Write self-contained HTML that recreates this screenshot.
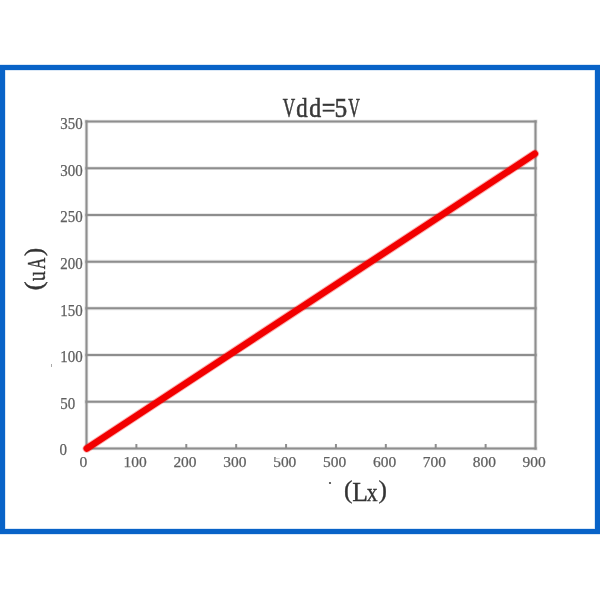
<!DOCTYPE html><html><head><meta charset="utf-8"><style>html,body{margin:0;padding:0;background:#fff;width:600px;height:600px;overflow:hidden}#w{width:600px;height:600px;will-change:transform}svg{display:block}text{font-family:"Liberation Serif",serif}</style></head><body>
<div id="w">
<svg width="600" height="600" viewBox="0 0 600 600">
<rect x="0" y="0" width="600" height="600" fill="#fff"/>
<rect x="2.5" y="67.5" width="595" height="464" fill="none" stroke="#0863c8" stroke-opacity="0.3" stroke-width="6"/>
<rect x="2.5" y="67.5" width="595" height="464" fill="none" stroke="#0863c8" stroke-width="5"/>
<g stroke="#8e8e8e" stroke-opacity="0.25" stroke-width="3.6" fill="none">
<line x1="84.70" y1="121.50" x2="537.30" y2="121.50"/>
<line x1="84.70" y1="168.21" x2="537.30" y2="168.21"/>
<line x1="84.70" y1="214.93" x2="537.30" y2="214.93"/>
<line x1="84.70" y1="261.64" x2="537.30" y2="261.64"/>
<line x1="84.70" y1="308.36" x2="537.30" y2="308.36"/>
<line x1="84.70" y1="355.07" x2="537.30" y2="355.07"/>
<line x1="84.70" y1="401.79" x2="537.30" y2="401.79"/>
<line x1="84.70" y1="448.50" x2="537.30" y2="448.50"/>
<line x1="86.50" y1="119.70" x2="86.50" y2="450.30"/>
<line x1="535.50" y1="119.70" x2="535.50" y2="450.30"/>
</g>
<line x1="85.50" y1="121.50" x2="536.50" y2="121.50" stroke="#8e8e8e" stroke-width="2"/>
<line x1="85.50" y1="168.21" x2="536.50" y2="168.21" stroke="#8e8e8e" stroke-width="2"/>
<line x1="85.50" y1="214.93" x2="536.50" y2="214.93" stroke="#8e8e8e" stroke-width="2"/>
<line x1="85.50" y1="261.64" x2="536.50" y2="261.64" stroke="#8e8e8e" stroke-width="2"/>
<line x1="85.50" y1="308.36" x2="536.50" y2="308.36" stroke="#8e8e8e" stroke-width="2"/>
<line x1="85.50" y1="355.07" x2="536.50" y2="355.07" stroke="#8e8e8e" stroke-width="2"/>
<line x1="85.50" y1="401.79" x2="536.50" y2="401.79" stroke="#8e8e8e" stroke-width="2"/>
<line x1="85.50" y1="448.50" x2="536.50" y2="448.50" stroke="#8e8e8e" stroke-width="2"/>
<line x1="86.50" y1="120.50" x2="86.50" y2="449.50" stroke="#8e8e8e" stroke-width="2"/>
<line x1="535.50" y1="120.50" x2="535.50" y2="449.50" stroke="#8e8e8e" stroke-width="2"/>
<line x1="136.39" y1="444.00" x2="136.39" y2="448.50" stroke="#8e8e8e" stroke-width="2"/>
<line x1="186.28" y1="444.00" x2="186.28" y2="448.50" stroke="#8e8e8e" stroke-width="2"/>
<line x1="236.17" y1="444.00" x2="236.17" y2="448.50" stroke="#8e8e8e" stroke-width="2"/>
<line x1="286.06" y1="444.00" x2="286.06" y2="448.50" stroke="#8e8e8e" stroke-width="2"/>
<line x1="335.94" y1="444.00" x2="335.94" y2="448.50" stroke="#8e8e8e" stroke-width="2"/>
<line x1="385.83" y1="444.00" x2="385.83" y2="448.50" stroke="#8e8e8e" stroke-width="2"/>
<line x1="435.72" y1="444.00" x2="435.72" y2="448.50" stroke="#8e8e8e" stroke-width="2"/>
<line x1="485.61" y1="444.00" x2="485.61" y2="448.50" stroke="#8e8e8e" stroke-width="2"/>
<line x1="86.8" y1="448.5" x2="534.8" y2="153.8" stroke="#f20000" stroke-opacity="0.3" stroke-width="8.6" stroke-linecap="round"/>
<line x1="86.8" y1="448.5" x2="534.8" y2="153.8" stroke="#f20000" stroke-width="6.6" stroke-linecap="round"/>
<text x="60.3" y="128.90" font-size="16" fill="#606060" stroke="#606060" stroke-width="0.25" textLength="22.4" lengthAdjust="spacingAndGlyphs">350</text>
<text x="60.3" y="175.61" font-size="16" fill="#606060" stroke="#606060" stroke-width="0.25" textLength="22.4" lengthAdjust="spacingAndGlyphs">300</text>
<text x="60.3" y="222.33" font-size="16" fill="#606060" stroke="#606060" stroke-width="0.25" textLength="22.4" lengthAdjust="spacingAndGlyphs">250</text>
<text x="60.3" y="269.04" font-size="16" fill="#606060" stroke="#606060" stroke-width="0.25" textLength="22.4" lengthAdjust="spacingAndGlyphs">200</text>
<text x="60.3" y="315.76" font-size="16" fill="#606060" stroke="#606060" stroke-width="0.25" textLength="22.4" lengthAdjust="spacingAndGlyphs">150</text>
<text x="60.3" y="362.47" font-size="16" fill="#606060" stroke="#606060" stroke-width="0.25" textLength="22.4" lengthAdjust="spacingAndGlyphs">100</text>
<text x="60.3" y="409.19" font-size="16" fill="#606060" stroke="#606060" stroke-width="0.25" textLength="14.9" lengthAdjust="spacingAndGlyphs">50</text>
<text x="59.5" y="455.30" font-size="16" fill="#606060" stroke="#606060" stroke-width="0.25" textLength="7.5" lengthAdjust="spacingAndGlyphs">0</text>
<text x="83.40" y="467.3" font-size="15.6" fill="#606060" stroke="#606060" stroke-width="0.25" text-anchor="middle" textLength="7.8" lengthAdjust="spacingAndGlyphs">0</text>
<text x="135.09" y="467.3" font-size="15.6" fill="#606060" stroke="#606060" stroke-width="0.25" text-anchor="middle" textLength="23.2" lengthAdjust="spacingAndGlyphs">100</text>
<text x="184.98" y="467.3" font-size="15.6" fill="#606060" stroke="#606060" stroke-width="0.25" text-anchor="middle" textLength="23.2" lengthAdjust="spacingAndGlyphs">200</text>
<text x="234.87" y="467.3" font-size="15.6" fill="#606060" stroke="#606060" stroke-width="0.25" text-anchor="middle" textLength="23.2" lengthAdjust="spacingAndGlyphs">300</text>
<text x="284.76" y="467.3" font-size="15.6" fill="#606060" stroke="#606060" stroke-width="0.25" text-anchor="middle" textLength="23.2" lengthAdjust="spacingAndGlyphs">500</text>
<text x="334.64" y="467.3" font-size="15.6" fill="#606060" stroke="#606060" stroke-width="0.25" text-anchor="middle" textLength="23.2" lengthAdjust="spacingAndGlyphs">500</text>
<text x="384.53" y="467.3" font-size="15.6" fill="#606060" stroke="#606060" stroke-width="0.25" text-anchor="middle" textLength="23.2" lengthAdjust="spacingAndGlyphs">600</text>
<text x="434.42" y="467.3" font-size="15.6" fill="#606060" stroke="#606060" stroke-width="0.25" text-anchor="middle" textLength="23.2" lengthAdjust="spacingAndGlyphs">700</text>
<text x="484.31" y="467.3" font-size="15.6" fill="#606060" stroke="#606060" stroke-width="0.25" text-anchor="middle" textLength="23.2" lengthAdjust="spacingAndGlyphs">800</text>
<text x="534.20" y="467.3" font-size="15.6" fill="#606060" stroke="#606060" stroke-width="0.25" text-anchor="middle" textLength="23.2" lengthAdjust="spacingAndGlyphs">900</text>
<text transform="translate(282.81,116.60) scale(0.652,1)" font-size="26.30" fill="#383838" stroke="#383838" stroke-width="0.55">V</text>
<text transform="translate(296.18,116.60) scale(0.867,1)" font-size="26.30" fill="#383838" stroke="#383838" stroke-width="0.55">d</text>
<text transform="translate(309.14,116.60) scale(0.905,1)" font-size="26.30" fill="#383838" stroke="#383838" stroke-width="0.55">d</text>
<text transform="translate(321.80,116.60) scale(0.919,1)" font-size="26.30" fill="#383838" stroke="#383838" stroke-width="0.55">=</text>
<text transform="translate(334.52,116.60) scale(0.967,1)" font-size="26.30" fill="#383838" stroke="#383838" stroke-width="0.55">5</text>
<text transform="translate(348.32,116.60) scale(0.611,1)" font-size="26.30" fill="#383838" stroke="#383838" stroke-width="0.55">V</text>
<text transform="translate(344.09,498.20) scale(0.998,1)" font-size="25.37" fill="#333" stroke="#333" stroke-width="0.35">(</text>
<text transform="translate(352.26,501.00) scale(0.966,1)" font-size="26.57" fill="#333" stroke="#333" stroke-width="0.35">L</text>
<text transform="translate(366.71,501.00) scale(0.852,1)" font-size="25.49" fill="#333" stroke="#333" stroke-width="0.35">x</text>
<text transform="translate(378.58,497.92) scale(1.002,1)" font-size="25.26" fill="#333" stroke="#333" stroke-width="0.35">)</text>
<g transform="translate(45.2,290) rotate(-90)">
<text transform="translate(-0.61,-2.77) scale(1.076,1)" font-size="25.70" fill="#333" stroke="#333" stroke-width="0.35">(</text>
<text transform="translate(8.73,0.05) scale(0.777,1)" font-size="26.03" fill="#333" stroke="#333" stroke-width="0.35">u</text>
<text transform="translate(20.84,0.00) scale(0.609,1)" font-size="26.21" fill="#333" stroke="#333" stroke-width="0.35">A</text>
<text transform="translate(33.97,-2.77) scale(0.947,1)" font-size="25.70" fill="#333" stroke="#333" stroke-width="0.35">)</text>
</g>
<rect x="275.6" y="455" width="5.5" height="3.0" fill="#fff"/>
<circle cx="330" cy="483" r="1.1" fill="#444"/>
<rect x="51" y="364" width="1" height="3" fill="#aaa"/>
</svg></div></body></html>
